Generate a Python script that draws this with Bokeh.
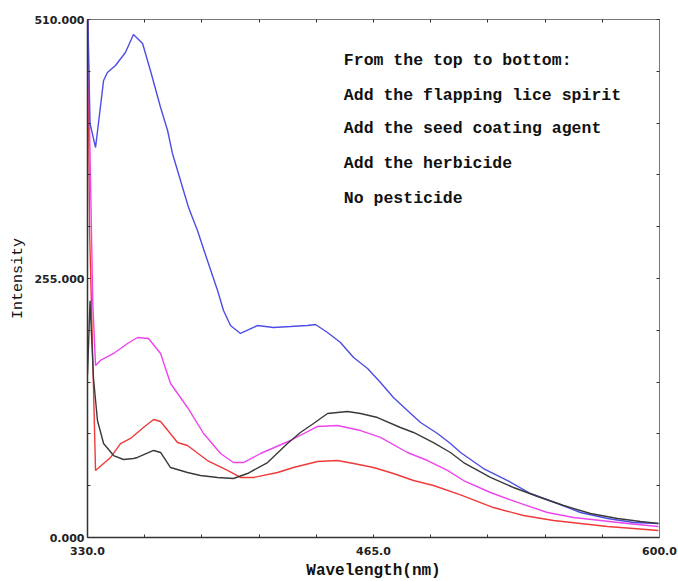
from bokeh.plotting import figure
from bokeh.models import FixedTicker, LinearAxis, Label
from bokeh.embed import file_html
from bokeh.resources import INLINE

# ---- data ----
x_blue = [330.0, 331.2, 333.8, 337.6, 339.4, 343.2, 347.9, 351.7, 356.0, 359.7, 364.5, 367.8, 370.1,
          373.9, 377.7, 381.9, 386.6, 391.4, 394.2, 397.5, 402.2, 410.2, 417.8, 425.8, 433.8, 437.6,
          443.3, 449.4, 455.6, 462.2, 468.3, 474.4, 481.0, 487.2, 495.2, 501.3, 506.1, 516.9, 528.3,
          539.1, 551.9, 562.7, 575.5, 587.7, 599.5]
y_blue = [530.0, 407.6, 384.0, 450.0, 457.8, 464.7, 477.5, 495.2, 486.4, 459.8, 423.4, 400.7, 378.1,
          351.5, 324.9, 302.3, 272.7, 243.2, 223.5, 208.7, 200.9, 208.7, 206.8, 207.7, 208.7, 209.7,
          201.8, 192.0, 177.2, 166.4, 152.6, 137.8, 125.0, 113.2, 102.4, 92.5, 83.7, 67.9, 56.1,
          43.3, 33.5, 24.6, 18.7, 14.8, 13.8]

x_magenta = [330.0, 331.0, 332.5, 333.8, 336.1, 342.3, 348.9, 353.6, 358.8, 364.5, 369.2, 377.2, 384.8,
             392.8, 398.9, 403.6, 411.7, 425.8, 438.6, 448.0, 458.9, 468.3, 481.0, 490.5, 499.9,
             507.5, 520.2, 533.0, 547.1, 559.4, 572.2, 584.9, 599.5]
y_magenta = [530.0, 400.0, 230.0, 169.3, 174.3, 181.2, 191.0, 196.9, 195.9, 181.2, 151.6, 128.0, 102.4,
             82.7, 73.8, 73.8, 82.7, 95.5, 109.3, 110.3, 105.3, 98.5, 83.7, 75.8, 66.0,
             56.1, 44.3, 34.5, 24.6, 19.7, 16.7, 13.8, 10.8]

x_red = [330.0, 331.0, 333.8, 337.6, 340.9, 345.6, 350.3, 356.4, 361.2, 364.5, 372.5, 377.2, 386.6,
         396.1, 402.2, 408.4, 419.7, 427.2, 438.6, 448.0, 455.6, 465.0, 474.4, 483.9, 493.3,
         506.1, 521.6, 535.8, 550.0, 562.7, 575.5, 587.7, 599.5]
y_red = [530.0, 300.0, 66.0, 72.9, 78.8, 92.5, 97.5, 108.3, 116.2, 114.2, 93.5, 90.6, 75.8,
         66.0, 59.1, 59.1, 64.0, 68.9, 74.8, 75.8, 72.9, 68.9, 63.0, 56.1, 51.2,
         42.0, 29.5, 21.7, 16.7, 13.8, 10.8, 8.9, 6.9]

x_black = [330.0, 331.2, 332.8, 334.7, 337.6, 342.3, 347.0, 351.7, 353.6, 361.2, 364.5, 369.2, 377.2,
           383.3, 391.4, 398.9, 405.5, 415.0, 424.4, 430.5, 436.7, 443.3, 452.7, 458.9, 466.9,
           477.7, 483.9, 493.3, 501.3, 507.5, 520.2, 531.1, 543.8, 554.7, 567.4, 580.2, 591.0, 599.5]
y_black = [160.0, 233.0, 157.5, 115.2, 92.5, 80.7, 76.8, 77.8, 78.8, 85.7, 83.7, 68.9, 64.0,
           61.0, 59.1, 58.1, 63.0, 73.8, 92.5, 103.4, 112.2, 122.1, 124.1, 122.1, 118.1,
           108.3, 103.4, 93.5, 83.7, 73.8, 59.1, 49.2, 39.4, 31.5, 23.6, 18.7, 15.8, 13.8]

x_ticks = [330, 357, 384, 411, 438, 465, 492, 519, 546, 573, 600]
x_tick_labels = {330: "330.0", 465: "465.0", 600: "600.0"}
y_ticks = [0, 51, 102, 153, 204, 255, 306, 357, 408, 459, 510]
y_tick_labels = {0: "0.000", 255: "255.000", 510: "510.000"}

notes = ["From the top to bottom:",
         "Add the flapping lice spirit",
         "Add the seed coating agent",
         "Add the herbicide",
         "No pesticide"]
note_x = 451
note_y = [470, 435, 403, 368, 334]

# ---- figure ----
p = figure(frame_width=572, frame_height=518, x_range=(330, 600), y_range=(0, 510),
           output_backend="svg", toolbar_location=None,
           min_border_left=87, min_border_right=19, min_border_top=19, min_border_bottom=44)
p.grid.visible = False
p.outline_line_color = None
p.background_fill_color = "white"
p.border_fill_color = "white"

def style_axis(ax, ticks, labels, show_labels=True):
    ax.ticker = FixedTicker(ticks=ticks, minor_ticks=[])
    if show_labels:
        ax.major_label_overrides = {t: labels.get(t, "") for t in ticks}
    else:
        ax.major_label_overrides = {t: "" for t in ticks}
    ax.major_tick_in = 3
    ax.major_tick_out = 0
    ax.minor_tick_in = 0
    ax.minor_tick_out = 0
    ax.axis_line_color = "#333333"
    ax.axis_line_width = 1.5
    ax.major_tick_line_color = "#333333"
    ax.major_label_text_font = "DejaVu Sans"
    ax.major_label_text_font_style = "bold"
    ax.major_label_text_font_size = "11px"
    ax.major_label_text_color = "#222222"

style_axis(p.xaxis[0], x_ticks, x_tick_labels)
style_axis(p.yaxis[0], y_ticks, y_tick_labels)
p.xaxis.major_label_standoff = 9
p.xaxis.axis_label = "Wavelength(nm)"
p.xaxis.axis_label_text_font = "Liberation Mono"
p.xaxis.axis_label_text_font_style = "bold"
p.xaxis.axis_label_text_font_size = "16px"
p.xaxis.axis_label_text_color = "#111111"
p.xaxis.axis_label_standoff = 4

p.yaxis.major_label_standoff = 3
p.yaxis.axis_label = "Intensity"
p.yaxis.axis_label_text_font = "Liberation Mono"
p.yaxis.axis_label_text_font_style = "normal"
p.yaxis.axis_label_text_font_size = "15px"
p.yaxis.axis_label_text_color = "#111111"
p.yaxis.axis_label_standoff = 4

ax_r = LinearAxis()
style_axis(ax_r, y_ticks, y_tick_labels, show_labels=False)
ax_r.axis_line_color = "#777777"
ax_r.axis_line_width = 1
ax_r.major_label_standoff = 0
p.add_layout(ax_r, "right")

ax_t = LinearAxis()
style_axis(ax_t, x_ticks, x_tick_labels, show_labels=False)
ax_t.axis_line_color = "#777777"
ax_t.axis_line_width = 1
ax_t.major_label_standoff = 0
p.add_layout(ax_t, "above")

# ---- lines ----
p.line(x_red, y_red, line_color="#f03a3a", line_width=1.4)
p.line(x_magenta, y_magenta, line_color="#ee44ee", line_width=1.4)
p.line(x_blue, y_blue, line_color="#4d4de6", line_width=1.4)
p.line(x_black, y_black, line_color="#3a3a3a", line_width=1.4)

for txt, yy in zip(notes, note_y):
    p.add_layout(Label(x=note_x, y=yy, text=txt, text_font="Liberation Mono",
                       text_font_size="16.5px", text_font_style="bold",
                       text_baseline="middle", text_align="left",
                       text_color="#111111"))

open("out.html", "w").write(file_html(p, INLINE))
